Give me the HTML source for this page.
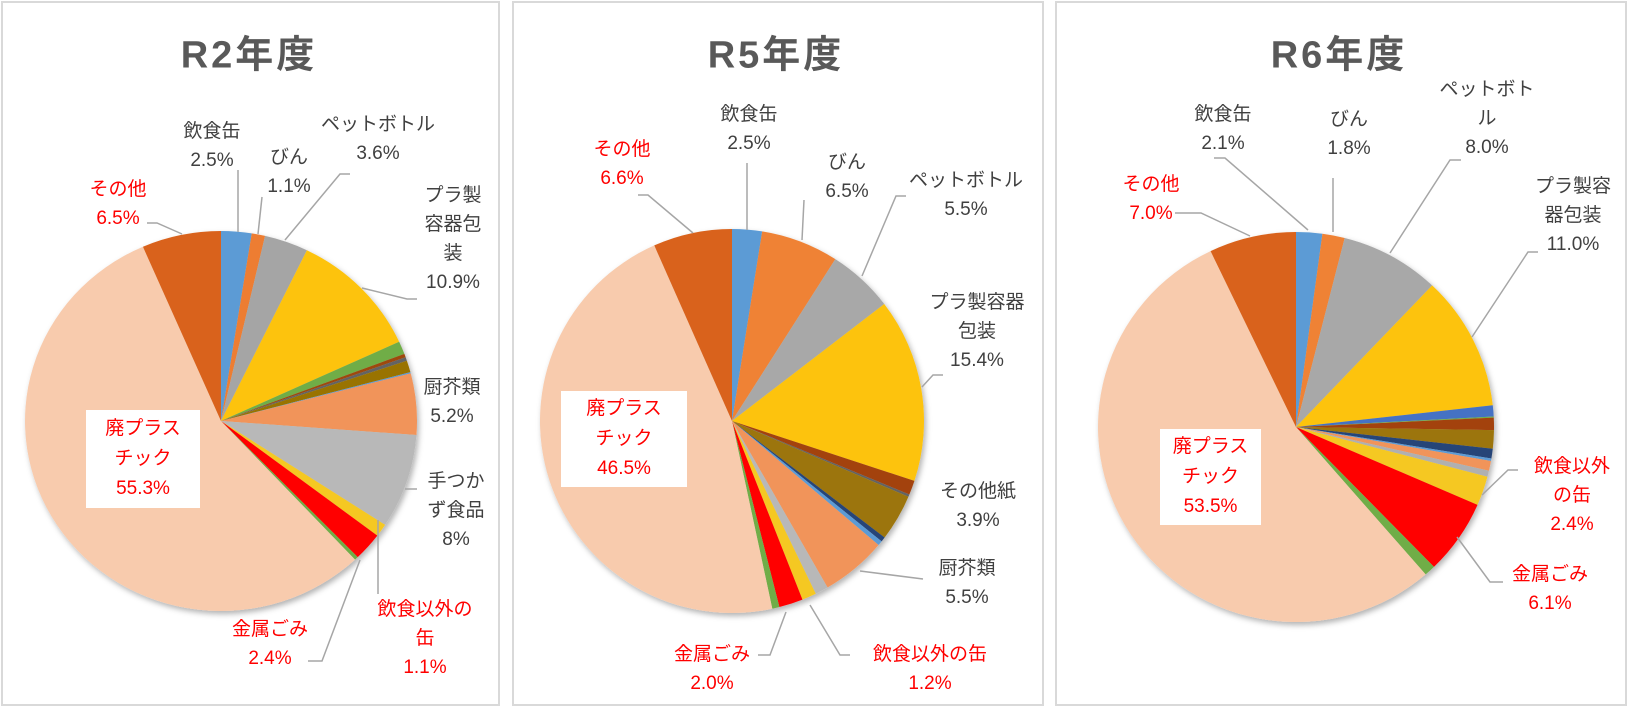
<!DOCTYPE html>
<html><head><meta charset="utf-8">
<style>
body{margin:0;width:1628px;height:707px;background:#fff;position:relative;overflow:hidden;font-family:"Liberation Sans","Noto Sans CJK JP",sans-serif;}
.panel{position:absolute;border:2px solid #d9d9d9;box-sizing:border-box;background:#fff;}
.title{position:absolute;font-weight:bold;font-size:38px;color:#595959;letter-spacing:3px;transform:translate(-50%,-50%);white-space:nowrap;font-family:"Liberation Sans","Noto Sans CJK JP",sans-serif;}
.lbl{position:absolute;font-size:19px;line-height:29px;color:#404040;text-align:center;transform:translateX(-50%);white-space:nowrap;}
.red{color:#ff0000;}
.box{position:absolute;background:#fff;color:#ff0000;font-size:19px;line-height:30px;text-align:center;}
svg{position:absolute;left:0;top:0;}
</style></head>
<body>
<div class="panel" style="left:1px;top:1px;width:499px;height:705px"></div>
<div class="panel" style="left:512px;top:1px;width:532px;height:705px"></div>
<div class="panel" style="left:1055px;top:1px;width:572px;height:705px"></div>

<svg id="chart" width="1628" height="707">
<defs><filter id="sh" x="-10%" y="-10%" width="120%" height="120%"><feDropShadow dx="2" dy="3" stdDeviation="3" flood-color="#000" flood-opacity="0.3"/></filter></defs>
<g id="pies"></g>
<g stroke="#a6a6a6" stroke-width="1.5" fill="none">
<polyline points="238,170 238,232"/>
<polyline points="262,197 258,234"/>
<polyline points="350,174 340,174 285,240"/>
<polyline points="147,223 157,223 182,234"/>
<polyline points="362,288 407,299 417,299"/>
<polyline points="405,489 417,489"/>
<polyline points="378,520 378,594"/>
<polyline points="360,560 322,661 308,661"/>
<polyline points="747,163 747,230"/>
<polyline points="804,200 802,240"/>
<polyline points="906,196 896,196 862,276"/>
<polyline points="638,195 648,195 693,233"/>
<polyline points="922,387 933,375 943,375"/>
<polyline points="860,571 923,579"/>
<polyline points="786,612 770,655 758,655"/>
<polyline points="810,605 840,655 850,655"/>
<polyline points="1214,158 1225,158 1308,230"/>
<polyline points="1333,178 1333,232"/>
<polyline points="1461,160 1450,160 1390,253"/>
<polyline points="1538,252 1528,252 1472,337"/>
<polyline points="1518,470 1508,470 1482,495"/>
<polyline points="1457,537 1490,582 1503,582"/>
<polyline points="1175,213 1201,213 1250,236"/>
</g>
</svg>

<div class="title" style="left:249px;top:51px">R2年度</div>
<div class="title" style="left:776px;top:51px">R5年度</div>
<div class="title" style="left:1339px;top:51px">R6年度</div>

<div class="lbl" style="left:212px;top:117px">飲食缶<br>2.5%</div>
<div class="lbl" style="left:289px;top:143px">びん<br>1.1%</div>
<div class="lbl" style="left:378px;top:110px">ペットボトル<br>3.6%</div>
<div class="lbl red" style="left:118px;top:175px">その他<br>6.5%</div>
<div class="lbl" style="left:453px;top:181px">プラ製<br>容器包<br>装<br>10.9%</div>
<div class="lbl" style="left:452px;top:373px">厨芥類<br>5.2%</div>
<div class="lbl" style="left:456px;top:467px">手つか<br>ず食品<br>8%</div>
<div class="lbl red" style="left:425px;top:595px">飲食以外の<br>缶<br>1.1%</div>
<div class="lbl red" style="left:270px;top:615px">金属ごみ<br>2.4%</div>
<div class="box" style="left:86px;top:410px;width:114px;height:98px;padding-top:4px;box-sizing:border-box">廃プラス<br>チック<br>55.3%</div>

<div class="lbl" style="left:749px;top:100px">飲食缶<br>2.5%</div>
<div class="lbl red" style="left:622px;top:135px">その他<br>6.6%</div>
<div class="lbl" style="left:847px;top:148px">びん<br>6.5%</div>
<div class="lbl" style="left:966px;top:166px">ペットボトル<br>5.5%</div>
<div class="lbl" style="left:977px;top:288px">プラ製容器<br>包装<br>15.4%</div>
<div class="lbl" style="left:978px;top:477px">その他紙<br>3.9%</div>
<div class="lbl" style="left:967px;top:554px">厨芥類<br>5.5%</div>
<div class="lbl red" style="left:712px;top:640px">金属ごみ<br>2.0%</div>
<div class="lbl red" style="left:930px;top:640px">飲食以外の缶<br>1.2%</div>
<div class="box" style="left:561px;top:391px;width:126px;height:96px;padding-top:3px;box-sizing:border-box">廃プラス<br>チック<br>46.5%</div>

<div class="lbl" style="left:1223px;top:100px">飲食缶<br>2.1%</div>
<div class="lbl" style="left:1349px;top:105px">びん<br>1.8%</div>
<div class="lbl" style="left:1487px;top:75px">ペットボト<br>ル<br>8.0%</div>
<div class="lbl" style="left:1573px;top:172px">プラ製容<br>器包装<br>11.0%</div>
<div class="lbl red" style="left:1572px;top:452px">飲食以外<br>の缶<br>2.4%</div>
<div class="lbl red" style="left:1550px;top:560px">金属ごみ<br>6.1%</div>
<div class="lbl red" style="left:1151px;top:170px">その他<br>7.0%</div>
<div class="box" style="left:1160px;top:429px;width:101px;height:96px;padding-top:3px;box-sizing:border-box">廃プラス<br>チック<br>53.5%</div>

<script>
const cats1 = ["飲食缶","びん","ペットボトル","プラ製容器包装","緑","赤茶","灰","茶","水色","厨芥類","手つかず食品","飲食以外の缶","金属ごみ","緑2","廃プラスチック","その他"];
const vals1 = [2.5,1.1,3.6,10.9,1.1,0.3,0.3,1.0,0.1,5.2,8.0,1.1,2.4,0.3,55.3,6.5];
const cats2 = ["飲食缶","びん","ペットボトル","プラ製容器包装","赤茶","灰","その他紙","紺","水色","厨芥類","灰2","飲食以外の缶","金属ごみ","緑","廃プラスチック","その他"];
const vals2 = [2.5,6.5,5.5,15.4,1.2,0.2,3.9,0.4,0.4,5.5,1.1,1.2,2.0,0.6,46.5,6.6];
const cats3 = ["飲食缶","びん","ペットボトル","プラ製容器包装","青","緑","赤茶","茶","紺","水色","橙","灰","飲食以外の缶","金属ごみ","緑2","廃プラスチック","その他"];
const vals3 = [2.1,1.8,8.0,11.0,0.9,0.1,1.0,1.5,0.8,0.2,0.8,0.5,2.4,6.1,0.9,53.5,7.0];

const col1 = ["#5b9bd5","#ed7d31","#a5a5a5","#fdc30f","#70ad47","#9e480e","#636363","#997300","#5b9bd5","#f1945a","#b8b8b8","#f5c823","#ff0000","#70ad47","#f8cbad","#d9621a"];
const col2 = ["#5b9bd5","#ef8236","#a8a8a8","#fdc30f","#a3420c","#636363","#9c7408","#264478","#5b9bd5","#f1945a","#b8b8b8","#f5c823","#ff0000","#70ad47","#f8cbad","#d9621a"];
const col3 = ["#5b9bd5","#ef8236","#a8a8a8","#fdc30f","#4472c4","#70ad47","#a3420c","#9c7408","#264478","#5b9bd5","#f1945a","#b0b0b0","#f5c823","#ff0000","#70ad47","#f8cbad","#d9621a"];

const NS = "http://www.w3.org/2000/svg";
const pies = document.getElementById("pies");
function drawPie(name, cats, vals, cols, cx, cy, rx, ry){
  const total = vals.reduce((a,b)=>a+b,0);
  const g = document.createElementNS(NS,"g");
  
  
  g.setAttribute('filter', 'url(#sh)');
  pies.appendChild(g);
  let acc = 0;
  const pt = a => [cx + rx*Math.sin(a), cy - ry*Math.cos(a)];
  vals.forEach((v,i)=>{
    const a0 = acc/total*2*Math.PI; acc += v; const a1 = acc/total*2*Math.PI;
    const p0 = pt(a0), p1 = pt(a1);
    const large = (a1-a0) > Math.PI ? 1 : 0;
    const p = document.createElementNS(NS,"path");
    p.setAttribute("d", `M${cx},${cy} L${p0[0]},${p0[1]} A${rx},${ry} 0 ${large} 1 ${p1[0]},${p1[1]} Z`);
    p.setAttribute("fill", cols[i]);
    
    
    g.appendChild(p);
  });
}
drawPie("pie-r2", cats1, vals1, col1, 221, 421, 196, 190);
drawPie("pie-r5", cats2, vals2, col2, 732, 421, 192, 192);
drawPie("pie-r6", cats3, vals3, col3, 1296, 427, 198, 195);
</script>
</body></html>
